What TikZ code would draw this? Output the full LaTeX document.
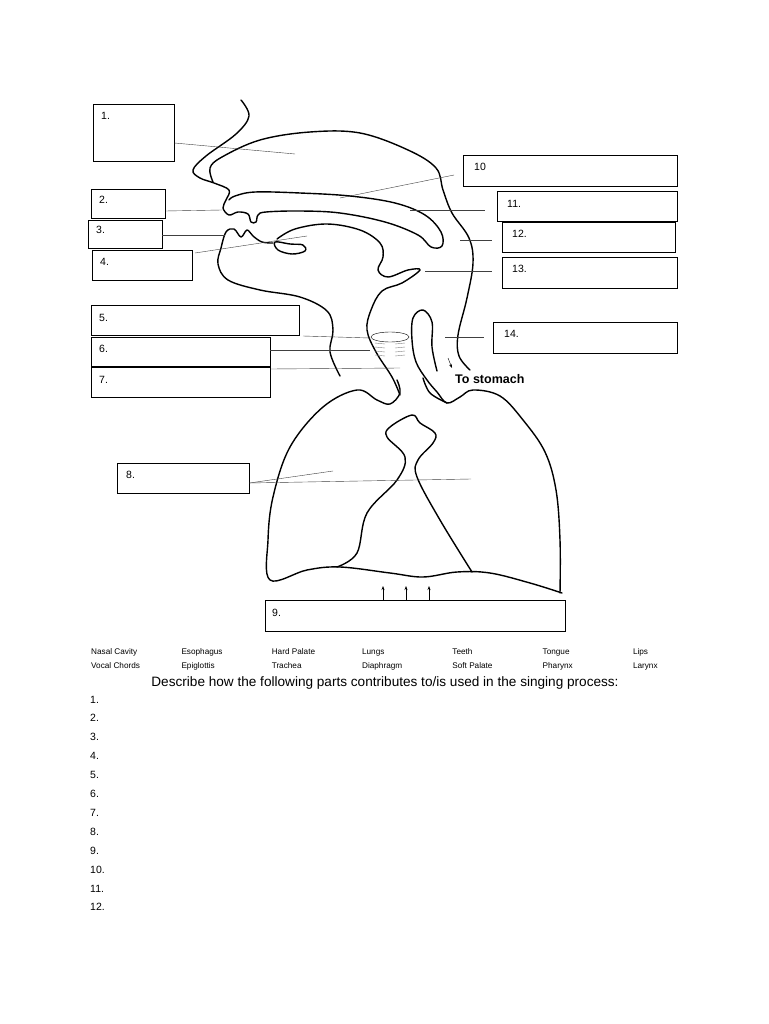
\documentclass[tikz,border=0pt]{standalone}
\usepackage{fontspec}
\setmainfont{Liberation Sans}
\usepackage{tikz}
\usetikzlibrary{arrows.meta}
\tikzset{
  labelbox/.style={draw, thin, minimum height=29pt, anchor=north west, inner sep=0pt},
  lead/.style={draw, black!75, thin},
  organ/.style={draw, line width=1.4pt, line cap=round, line join=round},
  boxnum/.style={anchor=north west, inner sep=0pt, font=\fontsize{10.5}{12}\selectfont},
  word/.style={anchor=base west, inner sep=0pt, font=\fontsize{8.2}{9}\selectfont},
  listnum/.style={anchor=base west, inner sep=0pt, font=\fontsize{10.5}{12}\selectfont}
}
\begin{document}
\begin{tikzpicture}[x=1pt,y=-1pt]
\useasboundingbox[fill=white] (0,0) rectangle (768,1024);

% label boxes
\node[labelbox, minimum width=81pt, minimum height=57pt] (b1) at (93,104) {};
\node[labelbox, minimum width=74pt] (b2) at (91,189) {};
\node[labelbox, minimum width=74pt, minimum height=28pt] (b3) at (88,220) {};
\node[labelbox, minimum width=100pt, minimum height=30pt] (b4) at (92,250) {};
\node[labelbox, minimum width=208pt, minimum height=30pt] (b5) at (91,305) {};
\node[labelbox, minimum width=179pt] (b6) at (91,337) {};
\node[labelbox, minimum width=179pt, minimum height=30pt] (b7) at (91,367) {};
\node[labelbox, minimum width=132pt, minimum height=30pt] (b8) at (117,463) {};
\node[labelbox, minimum width=300pt, minimum height=31pt] (b9) at (265,600) {};
\node[labelbox, minimum width=214pt, minimum height=31pt] (b10) at (463,155) {};
\node[labelbox, minimum width=180pt, minimum height=30pt] (b11) at (497,191) {};
\node[labelbox, minimum width=173pt, minimum height=30pt] (b12) at (502,222) {};
\node[labelbox, minimum width=175pt, minimum height=31pt] (b13) at (502,257) {};
\node[labelbox, minimum width=184pt, minimum height=31pt] (b14) at (493,322) {};

\node[boxnum] at (101,112) {1.};
\node[boxnum] at (99,196) {2.};
\node[boxnum] at (96,226) {3.};
\node[boxnum] at (100,258) {4.};
\node[boxnum] at (99,314) {5.};
\node[boxnum] at (99,345) {6.};
\node[boxnum] at (99,376) {7.};
\node[boxnum] at (126,471) {8.};
\node[boxnum] at (272,609) {9.};
\node[boxnum] at (474,163) {10};
\node[boxnum] at (507,200) {11.};
\node[boxnum] at (512,230) {12.};
\node[boxnum] at (512,265) {13.};
\node[boxnum] at (504,330) {14.};

% head outline
\draw[organ] plot[smooth, tension=0.6] coordinates {(241,100) (249,116) (236,134) (206,156) (193,170) (200,178) (214,183) (229,190) (226,200) (223,208) (229,215) (238,212) (248,214) (251,222) (256,222) (258,215) (266,212) (300,211) (340,213) (385,222) (418,235) (431,247) (442,246) (441,232) (425,215) (395,203) (350,196) (300,193) (255,192) (235,196) (229,200)};
\draw[organ] plot[smooth, tension=0.6] coordinates {(213,182) (210,168) (222,157) (260,140) (310,132) (360,133) (408,150) (436,168) (443,190) (452,213) (469,238) (473,263) (467,298) (458,335) (459,356) (470,370)};
\draw[organ] plot[smooth, tension=0.6] coordinates {(340,376) (330,352) (333,330) (327,311) (300,297) (260,290) (228,280) (218,264) (221,248) (226,232) (234,229) (241,237) (247,230) (253,236) (262,242) (273,243)};
\draw[organ] plot[smooth cycle, tension=0.6] coordinates {(275,242) (290,244) (303,245) (305,251) (292,254) (278,250)};
\draw[organ] plot[smooth, tension=0.6] coordinates {(277,239) (295,229) (327,224) (360,230) (380,243) (383,257) (378,270) (388,277) (408,270) (420,270) (402,283) (382,291) (371,310) (367,330) (376,352) (392,377) (400,395)};
% epiglottis / esophagus
\draw[organ] plot[smooth, tension=0.6] coordinates {(437,371) (432,347) (432,322) (423,310) (413,318) (412,340) (416,362) (427,380) (437,392) (447,403) (460,397) (473,390) (500,396) (523,420) (545,452) (556,490) (560,540) (560,593)};
% larynx rings
\draw[thin] (390,337) ellipse (19pt and 5pt);
\foreach \yy in {343,347,351,355}
  \draw[thin, gray] (375,\yy) -- (385,\yy+1) (395,\yy+1) -- (405,\yy);
\draw[-{Stealth[length=4pt]}, thin] (448,358) -- (452,368);
\node[anchor=base west, inner sep=0pt, font=\bfseries\fontsize{12.5}{13}\selectfont] (stomach) at (455,383) {To stomach};

% lungs
\draw[organ] plot[smooth, tension=0.6] coordinates {(397,380) (400,393) (390,404) (377,400) (357,390) (323,407) (290,447) (273,497) (268,540) (270,580) (307,570) (340,567) (390,573) (423,577) (457,572) (490,573) (530,583) (562,593)};
\draw[organ] plot[smooth, tension=0.6] coordinates {(423,378) (430,393) (447,403)};
\draw[organ] plot[smooth, tension=0.6] coordinates {(337,567) (357,553) (367,513) (397,480) (405,457) (387,437) (390,427) (412,415) (420,423) (435,433) (433,443) (418,460) (417,477) (440,520) (472,572)};
\foreach \xx in {383,406,429}
  \draw[-{Stealth[length=4pt]}, thick] (\xx,600) -- (\xx,586);

% leader lines
\draw[lead] (b1.east |- 0,143) -- (295,154);
\draw[lead] (b2.east |- 0,211) -- (222,210);
\draw[lead] (b3.east |- 0,235) -- (225,235);
\draw[lead] (195,253) -- (307,236);
\draw[lead] (303,336) -- (370,338);
\draw[lead] (b6.east |- 0,350) -- (370,350);
\draw[lead] (b7.east |- 0,369) -- (400,368);
\draw[lead] (b8.east |- 0,483) -- (333,471);
\draw[lead] (b8.east |- 0,483) -- (471,479);
\draw[lead] (340,198) -- (454,175);
\draw[lead] (410,210) -- (485,210);
\draw[lead] (460,240) -- (492,240);
\draw[lead] (425,271) -- (492,271);
\draw[lead] (445,337) -- (484,337);

% word bank
\foreach \w [count=\i from 0] in {Nasal Cavity,Esophagus,Hard Palate,Lungs,Teeth,Tongue,Lips}
  \node[word] at (91+90.3*\i,654) {\w};
\foreach \w [count=\i from 0] in {Vocal Chords,Epiglottis,Trachea,Diaphragm,Soft Palate,Pharynx,Larynx}
  \node[word] at (91+90.3*\i,668) {\w};
\node[anchor=base, inner sep=0pt, font=\fontsize{13.6}{15}\selectfont] (task) at (385,686) {Describe how the following parts contributes to/is used in the singing process:};
\foreach \n in {1,...,12}
  \node[listnum] at (90,703+18.9*\n-18.9) {\n.};
\end{tikzpicture}
\end{document}
